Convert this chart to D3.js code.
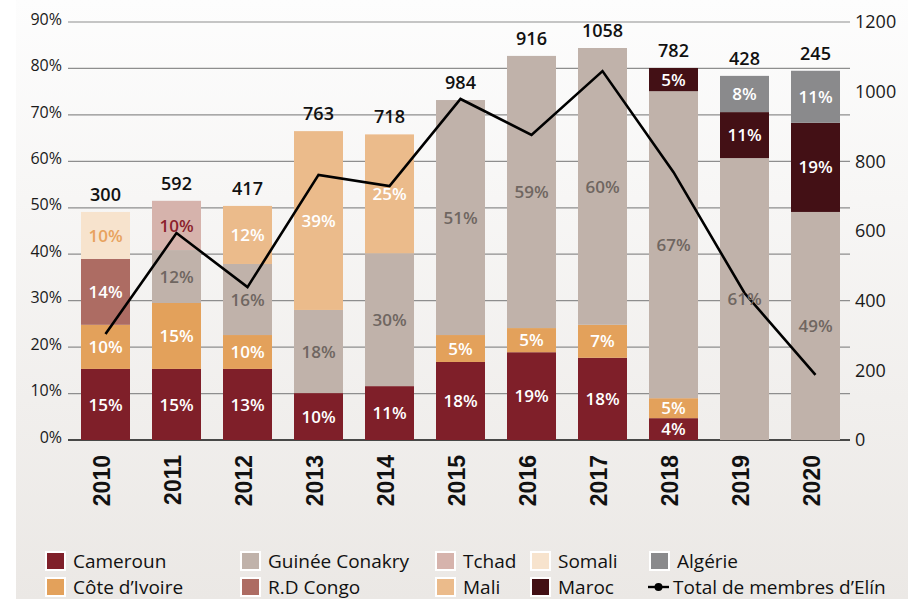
<!DOCTYPE html>
<html lang="fr">
<head>
<meta charset="UTF-8">
<title>Membres d'Elín par nationalité</title>
<script src="https://d3js.org/d3.v7.min.js"></script>
<style>
  body { margin: 0; background: #fff; }
  svg { display: block; font-family: "Open Sans", "Noto Sans", sans-serif; }
</style>
</head>
<body>
<svg width="922" height="599"></svg>
<script>
const width = 922, height = 599;

// years on the x axis
const years = ["2010", "2011", "2012", "2013", "2014", "2015", "2016", "2017", "2018", "2019", "2020"];

// segment heights (share in %, as drawn) and the printed labels
const cameroun        = [15.3, 15.3, 15.3, 10.1, 11.6, 16.8, 18.9, 17.7, 4.7, 0, 0];
const camerounLabels  = [15, 15, 13, 10, 11, 18, 19, 18, 4, null, null];
const coteIvoire      = [9.5, 14.2, 7.3, 0, 0, 5.8, 5.2, 7.1, 4.3, 0, 0];
const coteLabels      = [10, 15, 10, null, null, 5, 5, 7, 5, null, null];
const guinee          = [0, 11.4, 15.3, 17.9, 28.6, 50.6, 58.6, 59.6, 66.1, 60.7, 49.1];
const guineeLabels    = [null, 12, 16, 18, 30, 51, 59, 60, 67, 61, 49];
const rdCongo         = [14.2, 0, 0, 0, 0, 0, 0, 0, 0, 0, 0];
const rdCongoLabels   = [14, null, null, null, null, null, null, null, null, null, null];
const mali            = [0, 0, 12.5, 38.5, 25.6, 0, 0, 0, 0, 0, 0];
const maliLabels      = [null, null, 12, 39, 25, null, null, null, null, null, null];
const tchad           = [0, 10.6, 0, 0, 0, 0, 0, 0, 0, 0, 0];
const tchadLabels     = [null, 10, null, null, null, null, null, null, null, null, null];
const somali          = [10.1, 0, 0, 0, 0, 0, 0, 0, 0, 0, 0];
const somaliLabels    = [10, null, null, null, null, null, null, null, null, null, null];
const maroc           = [0, 0, 0, 0, 0, 0, 0, 0, 5.0, 9.9, 19.2];
const marocLabels     = [null, null, null, null, null, null, null, null, 5, 11, 19];
const algerie         = [0, 0, 0, 0, 0, 0, 0, 0, 0, 7.8, 11.2];
const algerieLabels   = [null, null, null, null, null, null, null, null, null, 8, 11];

// total members: printed above bars, and the line as drawn
const totalLabels = [300, 592, 417, 763, 718, 984, 916, 1058, 782, 428, 245];
const totalLine   = [304, 594, 439, 761, 729, 979, 876, 1059, 769, 422, 187];

const pctTicks = [0, 10, 20, 30, 40, 50, 60, 70, 80, 90];
const totalTicks = [0, 200, 400, 600, 800, 1000, 1200];

const series = [
  { key: "Cameroun",       values: cameroun,   labels: camerounLabels },
  { key: "Côte d’Ivoire",  values: coteIvoire, labels: coteLabels },
  { key: "Guinée Conakry", values: guinee,     labels: guineeLabels },
  { key: "R.D Congo",      values: rdCongo,    labels: rdCongoLabels },
  { key: "Mali",           values: mali,       labels: maliLabels },
  { key: "Tchad",          values: tchad,      labels: tchadLabels },
  { key: "Somali",         values: somali,     labels: somaliLabels },
  { key: "Maroc",          values: maroc,      labels: marocLabels },
  { key: "Algérie",        values: algerie,    labels: algerieLabels }
];

const fill = {
  "Cameroun": "#7f1f29", "Côte d’Ivoire": "#e3a15b", "Guinée Conakry": "#c0b2aa",
  "R.D Congo": "#ad6c63", "Mali": "#ebbb8b", "Tchad": "#d6b3ac",
  "Somali": "#f7e3cd", "Maroc": "#431015", "Algérie": "#8a8a8c"
};
const labelFill = {
  "Guinée Conakry": "#6f6661", "Tchad": "#8b1f2c", "Somali": "#e8a25e"
};

const svg = d3.select("svg");

// background gradient
const grad = svg.append("defs").append("linearGradient")
  .attr("id", "bg").attr("x1", 0).attr("y1", 0).attr("x2", 0).attr("y2", 1);
grad.append("stop").attr("offset", "0%").attr("stop-color", "#fdfdfd");
grad.append("stop").attr("offset", "100%").attr("stop-color", "#ebe8e5");
svg.append("rect").attr("x", 16).attr("y", 0).attr("width", 892).attr("height", height)
  .attr("fill", "url(#bg)");

const x = d3.scaleBand().domain(years).range([70, 851]).paddingInner(0.31).paddingOuter(0.155);
const y = d3.scaleLinear().domain([0, 90]).range([440, 22]);
const yTotal = d3.scaleLinear().domain([0, 1200]).range([440, 22]);

// grid
svg.append("g").selectAll("line").data(pctTicks).join("line")
  .attr("x1", 68).attr("x2", 850)
  .attr("y1", d => y(d)).attr("y2", d => y(d))
  .attr("stroke", d => d === 0 ? "#111" : "#8e8e8e")
  .attr("stroke-width", d => d === 0 ? 1.6 : 1.2);

// stacked bars
const table = years.map((yr, i) => {
  const row = { year: yr };
  series.forEach(s => row[s.key] = s.values[i]);
  return row;
});
const stacked = d3.stack().keys(series.map(s => s.key))(table);

const layers = svg.append("g").selectAll("g").data(stacked).join("g")
  .attr("fill", d => fill[d.key]);
layers.selectAll("rect").data(d => d.filter(p => p[1] > p[0])).join("rect")
  .attr("x", d => x(d.data.year))
  .attr("width", x.bandwidth())
  .attr("y", d => y(d[1]))
  .attr("height", d => y(d[0]) - y(d[1]));

// segment labels
const segLabels = [];
stacked.forEach((layer, li) => {
  layer.forEach((p, i) => {
    const lab = series[li].labels[i];
    if (lab != null) segLabels.push({ key: layer.key, year: years[i], mid: (p[0] + p[1]) / 2, text: lab + "%" });
  });
});

// total line
const line = d3.line()
  .x((d, i) => x(years[i]) + x.bandwidth() / 2)
  .y(d => yTotal(d));
svg.append("path").datum(totalLine)
  .attr("d", line).attr("fill", "none")
  .attr("stroke", "#000").attr("stroke-width", 2.6).attr("stroke-linejoin", "miter");

svg.append("g").selectAll("text").data(segLabels).join("text")
  .attr("x", d => x(d.year) + x.bandwidth() / 2)
  .attr("y", d => y(d.mid))
  .attr("dy", "0.36em")
  .attr("text-anchor", "middle")
  .attr("font-size", 17).attr("font-weight", 600)
  .attr("fill", d => labelFill[d.key] || "#fff")
  .text(d => d.text);

// totals above bars
svg.append("g").selectAll("text").data(stacked[stacked.length - 1]).join("text")
  .attr("x", d => x(d.data.year) + x.bandwidth() / 2)
  .attr("y", d => y(d[1]) - 11)
  .attr("text-anchor", "middle")
  .attr("font-size", 18).attr("font-weight", 600)
  .attr("fill", "#111")
  .text((d, i) => totalLabels[i]);

// left axis
const leftAxis = svg.append("g").attr("transform", "translate(62,-3)")
  .call(d3.axisLeft(y).tickValues(pctTicks).tickFormat(d => d + "%").tickSize(0).tickPadding(0));
leftAxis.select(".domain").remove();
leftAxis.selectAll("text").attr("font-family", "Open Sans, sans-serif")
  .attr("font-size", 16).attr("font-weight", 500).attr("fill", "#1a1a1a");

// right axis
const rightAxis = svg.append("g").attr("transform", "translate(855,0)")
  .call(d3.axisRight(yTotal).tickValues(totalTicks).tickFormat(d3.format("d")).tickSize(0).tickPadding(0));
rightAxis.select(".domain").remove();
rightAxis.selectAll("text").attr("font-family", "Open Sans, sans-serif")
  .attr("font-size", 18).attr("font-weight", 500).attr("fill", "#1a1a1a");

// bottom axis, vertical year labels
const bottomAxis = svg.append("g").attr("transform", "translate(0,440)")
  .call(d3.axisBottom(x).tickSize(0));
bottomAxis.select(".domain").remove();
bottomAxis.selectAll("text")
  .attr("transform", "rotate(-90)")
  .attr("x", -15).attr("y", -4).attr("dy", "0.36em")
  .attr("text-anchor", "end")
  .attr("font-family", "Liberation Sans, Arial, sans-serif")
  .attr("font-size", 23).attr("font-weight", 700).attr("fill", "#111");

// legend
const legendItems = [
  { key: "Cameroun", col: 0, row: 0 }, { key: "Guinée Conakry", col: 1, row: 0 },
  { key: "Tchad", col: 2, row: 0 }, { key: "Somali", col: 3, row: 0 },
  { key: "Algérie", col: 4, row: 0 },
  { key: "Côte d’Ivoire", col: 0, row: 1 }, { key: "R.D Congo", col: 1, row: 1 },
  { key: "Mali", col: 2, row: 1 }, { key: "Maroc", col: 3, row: 1 }
];
const colX = [46, 241, 436, 531, 650];
const rowY = [561, 587];

const legend = svg.append("g");
const li = legend.selectAll("g").data(legendItems).join("g")
  .attr("transform", d => `translate(${colX[d.col]},${rowY[d.row]})`);
li.append("rect").attr("x", 0).attr("y", -9).attr("width", 19).attr("height", 18)
  .attr("fill", d => fill[d.key]).attr("stroke", "#fff").attr("stroke-width", 2);
li.append("text").attr("x", 27).attr("dy", "0.36em")
  .attr("font-size", 19).attr("font-weight", 500).attr("fill", "#111")
  .text(d => d.key);

const lineLegend = legend.append("g").attr("transform", `translate(648,${rowY[1]})`);
lineLegend.append("line").attr("x1", 0).attr("x2", 21).attr("stroke", "#000").attr("stroke-width", 2.4);
lineLegend.append("circle").attr("cx", 10.5).attr("r", 4).attr("fill", "#000");
lineLegend.append("text").attr("x", 25).attr("dy", "0.36em")
  .attr("font-size", 19).attr("font-weight", 500).attr("fill", "#111")
  .text("Total de membres d’Elín");
</script>
</body>
</html>
